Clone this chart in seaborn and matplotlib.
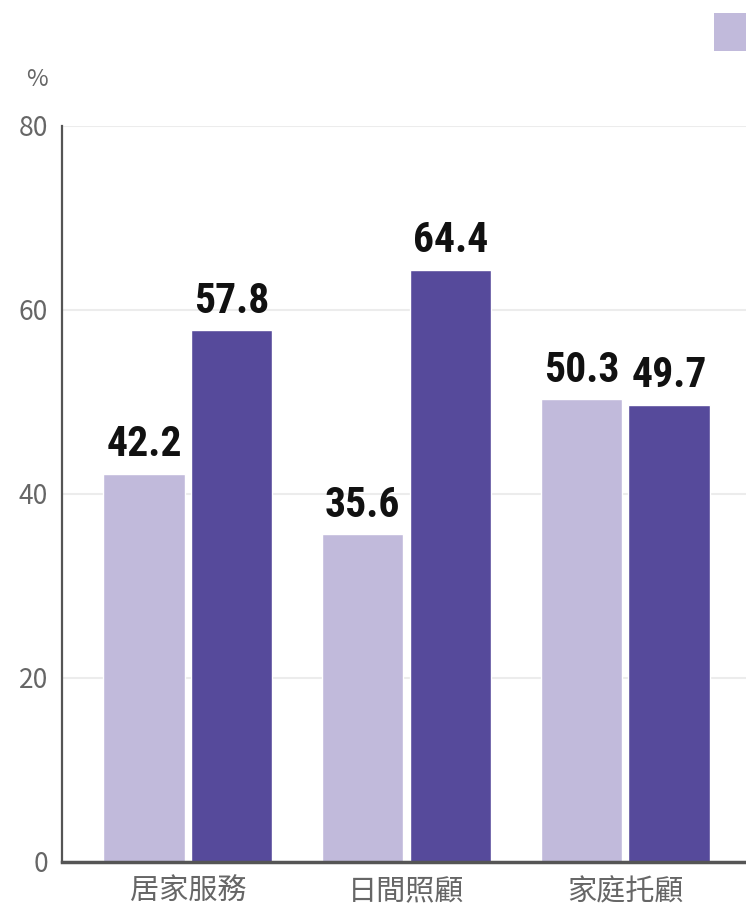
import matplotlib
matplotlib.use("Agg")
import matplotlib.pyplot as plt
import seaborn as sns
import pandas as pd
from matplotlib.patches import Patch

categories = ["居家服務", "日間照顧", "家庭托顧"]
series_names = ["男", "女"]
values_light = [42.2, 35.6, 50.3]
values_dark = [57.8, 64.4, 49.7]
yticks = [0, 20, 40, 60, 80]

colors = ["#c1badb", "#564a9b"]

df = pd.DataFrame({
    "類別": categories * 2,
    "性別": [series_names[0]] * 3 + [series_names[1]] * 3,
    "值": values_light + values_dark,
})

sns.set_theme(style="white")
plt.rcParams["font.family"] = ["Noto Sans CJK TC", "DejaVu Sans"]

fig = plt.figure(figsize=(7.46, 9.11), dpi=100)
ax = fig.add_axes([62 / 746, 1 - 862 / 911, (751 - 62) / 746, (862 - 126) / 911])

sns.barplot(data=df, x="類別", y="值", hue="性別", palette=colors,
            width=0.8, gap=0.07, ax=ax, legend=False, saturation=1)

ax.set_xlim(-0.575, 2.575)
ax.set_ylim(0, 80)
ax.set_yticks(yticks)
ax.set_yticklabels([str(t) for t in yticks])
ax.yaxis.grid(True, color="#ececec", linewidth=1.5)
ax.set_axisbelow(True)
ax.set_xlabel("")
ax.set_ylabel("")
ax.tick_params(axis="y", length=0, pad=10, labelsize=19, labelcolor="#666666")
ax.tick_params(axis="x", length=0, pad=11, labelsize=21, labelcolor="#666666")
for s in ["top", "right"]:
    ax.spines[s].set_visible(False)
ax.spines["left"].set_color("#555555")
ax.spines["left"].set_linewidth(1.6)
ax.spines["bottom"].set_color("#555555")
ax.spines["bottom"].set_linewidth(2.5)

label_font = ["Roboto Condensed", "DejaVu Sans Condensed", "Liberation Sans Narrow",
              "Roboto", "DejaVu Sans"]
for cont in ax.containers:
    ax.bar_label(cont, fmt="%.1f", padding=6, fontsize=30, fontweight="bold",
                 color="#111111", family=label_font)

fig.text(37 / 746, 1 - 80 / 911, "%", ha="center", va="center",
         fontsize=17, color="#666666")

handles = [Patch(facecolor=c, edgecolor="none") for c in colors]
fig.legend(handles, series_names, loc="upper left",
           bbox_to_anchor=(714 / 746, 1 - 13 / 911), ncol=2, frameon=False,
           fontsize=14, handlelength=1.65, handleheight=2.6,
           borderpad=0, borderaxespad=0, handletextpad=0.4)

fig.savefig("out.png", dpi=100)
